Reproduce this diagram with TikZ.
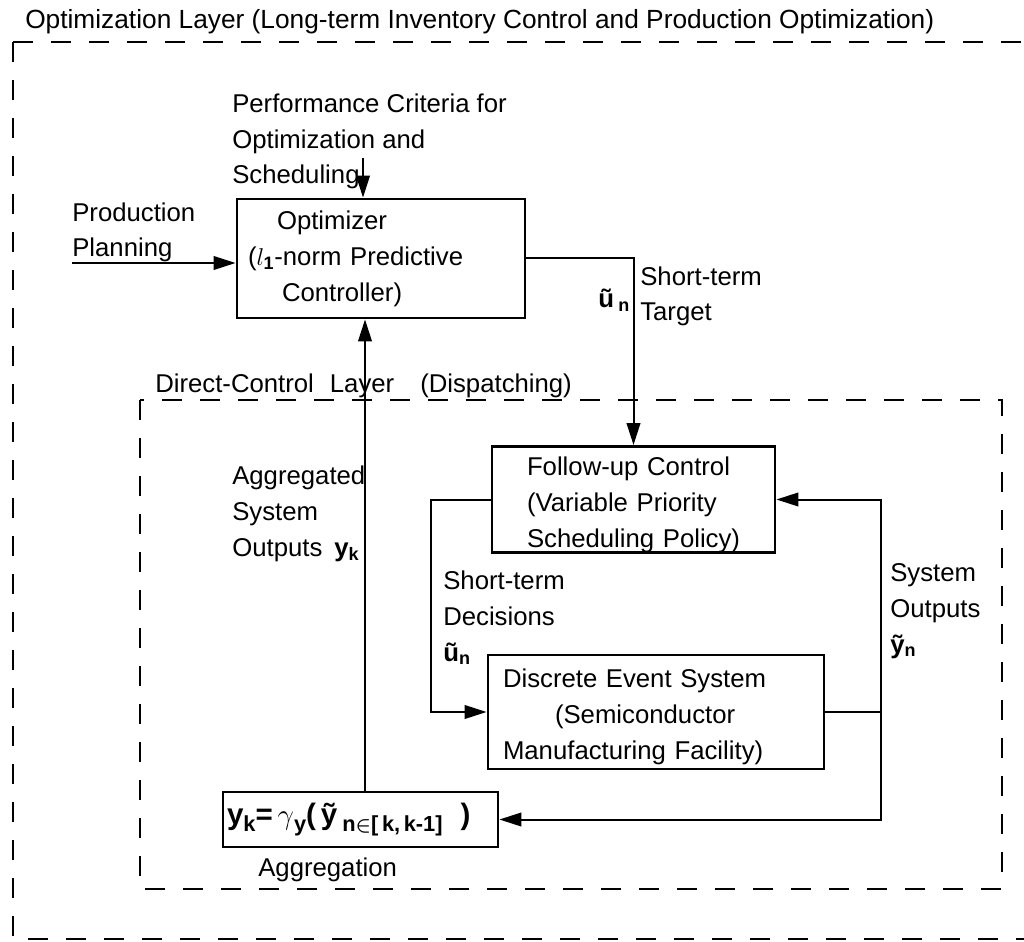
\documentclass[tikz,border=0pt]{standalone}
\usepackage{amsmath}
\usepackage{fontspec}
\setmainfont{Liberation Sans}
\usetikzlibrary{arrows.meta}

% lowered bold subscript used in the aggregation formula
\newcommand{\aggsub}[1]{\raisebox{-4.5pt}{\fontsize{15.5pt}{15.5pt}\selectfont\bfseries #1}}
% taller first line, pushes a block's text a little lower in its box
\newcommand{\firststrut}{\rule{0pt}{7.2mm}}

\begin{document}
\begin{tikzpicture}[x=0.25mm,y=-0.25mm,
  body/.style={font=\fontsize{18.3pt}{25.6pt}\selectfont},
  lbl/.style={body, anchor=base west, inner sep=0pt, align=left},
  blockbox/.style={body, draw, line width=0.7mm, inner sep=0pt, align=left},
  conn/.style={line width=0.5mm},
  arr/.style={conn, -{Triangle[length=5.5mm,width=3.4mm]}},
  layer/.style={draw, line width=0.7mm, dash pattern=on 5mm off 4.5mm}
]
\useasboundingbox (0,0) rectangle (1024,942);

% layers
\draw[layer] (13,42) rectangle (1045,939);
\draw[layer] (140,400) rectangle (1002,889);
\node[lbl, font=\fontsize{18.7pt}{20pt}\selectfont] (toptitle) at (25,29)
  {Optimization Layer (Long-term Inventory Control and Production Optimization)};
\node[lbl] (innertitle) at (155,392)
  {Direct-Control\hspace{4mm}Layer\hspace{6.5mm}(Dispatching)};

% blocks
\node[blockbox, text width=72mm, minimum height=29.75mm] (opt) at (381,258.5)
  {\hspace*{10mm}Optimizer\\
   \hspace*{2.75mm}($l_{\mathbf{1}}$-norm Predictive\\
   \hspace*{11.25mm}Controller)};
\node[blockbox, text width=70.75mm, minimum height=26.25mm] (fu) at (633.5,499.5)
  {\firststrut\hspace*{8.75mm}Follow-up Control\\
   \hspace*{8.75mm}(Variable Priority\\
   \hspace*{8.75mm}Scheduling Policy)};
\node[blockbox, text width=84mm, minimum height=28.5mm] (des) at (656,712)
  {\firststrut\hspace*{3.75mm}Discrete Event System\\
   \hspace*{16.75mm}(Semiconductor\\
   \hspace*{3.75mm}Manufacturing Facility)};
\node[blockbox, text width=68.75mm, minimum height=13.75mm] (agg) at (360.5,819.5)
  {\hspace*{1mm}{\bfseries\fontsize{21pt}{21pt}\selectfont
   y\aggsub{k}=\,$\gamma$\aggsub{y}(\,ỹ\,\aggsub{n$\boldsymbol{\in}$[\,k,\,k-1]}\hspace{4.5mm})}};

% free labels (anchored at the baseline of their last line)
\node[lbl] (perf) at (232,184)
  {Performance Criteria for\\Optimization and\\Scheduling};
\node[lbl] (prod) at (72,257) {Production\\Planning};
\node[lbl] (target) at (640,321) {Short-term\\Target};
\node[lbl] (un1) at (598,308) {\textbf{ũ}\,\textsubscript{\textbf{n}}};
\node[lbl] (aggout) at (232,556)
  {Aggregated\\System\\Outputs\hspace{3mm}\textbf{y}\textsubscript{\textbf{k}}};
\node[lbl] (dec) at (443,661) {Short-term\\Decisions\\\textbf{ũ}\textsubscript{\textbf{n}}};
\node[lbl] (sysout) at (890,653) {System\\Outputs\\\textbf{ỹ}\textsubscript{\textbf{n}}};
\node[lbl] (agglbl) at (258,876) {Aggregation};

% connectors
\coordinate (perfend) at (363,158);
\coordinate (ppstart) at (72,263);
\coordinate (upx) at (365,0);
\coordinate (rc) at (881,0);

\draw[arr] (perfend) -- (perfend |- opt.north);
\draw[arr] (ppstart) -- (ppstart -| opt.west);
\draw[arr] (opt.east) -| (fu.north);
\draw[arr] (agg.north -| upx) -- (opt.south -| upx);
\draw[arr] (fu.west) -- ++(-60,0) |- (des.west);
\draw[arr] (des.east) -- (rc |- des.east) |- (fu.east);
\draw[arr] (rc |- des.east) |- (agg.east);
\end{tikzpicture}
\end{document}
